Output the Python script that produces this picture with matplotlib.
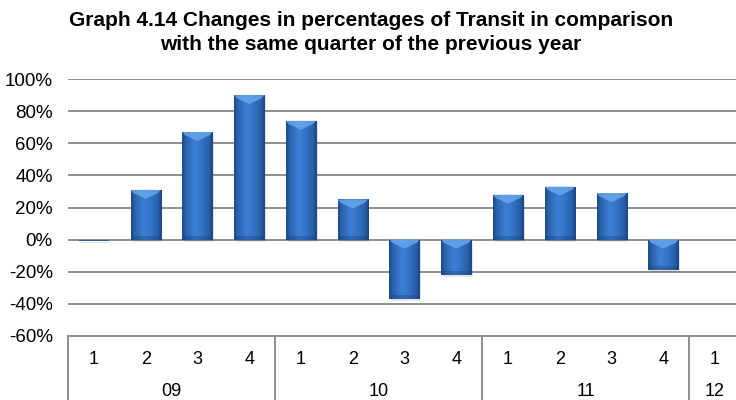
import matplotlib
matplotlib.use("Agg")
import matplotlib.pyplot as plt
import numpy as np
from matplotlib.patches import Polygon
from matplotlib.colors import LinearSegmentedColormap

plt.rcParams['font.family'] = ['Liberation Sans', 'DejaVu Sans']

quarters = ["1", "2", "3", "4", "1", "2", "3", "4", "1", "2", "3", "4", "1"]
years = ["09", "10", "11", "12"]
quarters_per_year = [4, 4, 4, 1]
change_pct = [-1, 31, 67, 90, 74, 25, -37, -22, 28, 33, 29, -19, 0]

title_lines = ["Graph 4.14 Changes in percentages of Transit in comparison",
               "with the same quarter of the previous year"]

W, H = 736, 400
fig = plt.figure(figsize=(W / 100, H / 100), dpi=100)
ax = fig.add_axes([68 / W, 1 - 336 / H, (741 - 68) / W, (336 - 79) / H])

x = np.arange(len(change_pct))
bar_w = 0.58
grid_col = "#8e8e8e"

ax.set_xlim(-0.5, len(change_pct) - 0.5)
ax.set_ylim(-60, 100)
ax.set_yticks(np.arange(-60, 101, 20))
ax.set_yticklabels([f"{v}%" for v in range(-60, 101, 20)], fontsize=13.5)
ax.tick_params(axis="y", length=0, pad=11)
ax.set_xticks([])
for s in ["left", "right", "top"]:
    ax.spines[s].set_visible(False)
ax.spines["bottom"].set_color(grid_col)
ax.spines["bottom"].set_linewidth(1.4)
ax.yaxis.grid(True, color=grid_col, linewidth=1.4)
ax.set_axisbelow(True)

# soft drop shadow under each bar
for xi, v in zip(x, change_pct):
    lo, hi = min(0, v), max(0, v)
    ax.bar(xi + 0.03, hi - lo, bottom=lo - 1.2, width=bar_w, color="#000000",
           alpha=0.10, linewidth=0, zorder=2)

bars = ax.bar(x, change_pct, width=bar_w, color="#2a5fa6", linewidth=0, zorder=3)

# horizontal shading across each bar: dark edges, bright centre
cmap = LinearSegmentedColormap.from_list(
    "barshade",
    [(0.0, "#1d4a86"), (0.12, "#2a63ad"), (0.4, "#3b7fd6"),
     (0.6, "#3676cb"), (0.88, "#285fa8"), (1.0, "#1b4580")])
grad = np.linspace(0, 1, 64).reshape(1, -1)
px_per_pct = (336 - 79) / 160.0
for b, v in zip(bars, change_pct):
    x0 = b.get_x()
    x1 = x0 + b.get_width()
    lo, hi = min(0, v), max(0, v)
    if hi - lo < 3:
        continue
    im = ax.imshow(grad, cmap=cmap, extent=(x0, x1, lo, hi), aspect="auto",
                   zorder=4, interpolation="bicubic")
    im.set_clip_path(b)
    # darker base band
    band = min(2.5, (hi - lo) * 0.3)
    ax.fill_between([x0, x1], lo, lo + band, color="#173e75", alpha=0.35,
                    linewidth=0, zorder=5)
    # light bevel wedge at the top face
    d = min(9 / px_per_pct, (hi - lo) * 0.6)
    xc = (x0 + x1) / 2
    wedge = Polygon([(x0, hi), (x1, hi), (x1 - 0.05, hi - d * 0.35),
                     (xc, hi - d), (x0 + 0.05, hi - d * 0.35)],
                    closed=True, facecolor="#6aa8ec", edgecolor="none",
                    alpha=0.8, zorder=6)
    ax.add_patch(wedge)

ax.set_xlim(-0.5, len(change_pct) - 0.5)
ax.set_ylim(-60, 100)

# two-level category axis below the plot
trans = ax.get_xaxis_transform()
axis_h_px = 336 - 79
bottom_frac = -(H - 336 + 5) / axis_h_px
q_y = -(359 - 336) / axis_h_px
y_y = -(392 - 336) / axis_h_px
for xi, q in zip(x, quarters):
    ax.text(xi, q_y, q, transform=trans, ha="center", va="center",
            fontsize=13, clip_on=False)
start = 0
bounds = [-0.5]
for yr, n in zip(years, quarters_per_year):
    centre = start + (n - 1) / 2
    ax.text(centre, y_y, yr, transform=trans, ha="center", va="center",
            fontsize=13, clip_on=False)
    start += n
    bounds.append(start - 0.5)
for bx in bounds[:-1]:
    ax.plot([bx, bx], [0, bottom_frac], transform=trans, color=grid_col,
            linewidth=1.4, clip_on=False)

for line, ypx in zip(title_lines, [20, 45]):
    fig.text(371 / W, 1 - ypx / H, line, ha="center", va="center",
             fontsize=15, fontweight="bold")

fig.savefig("out.png", dpi=100)
